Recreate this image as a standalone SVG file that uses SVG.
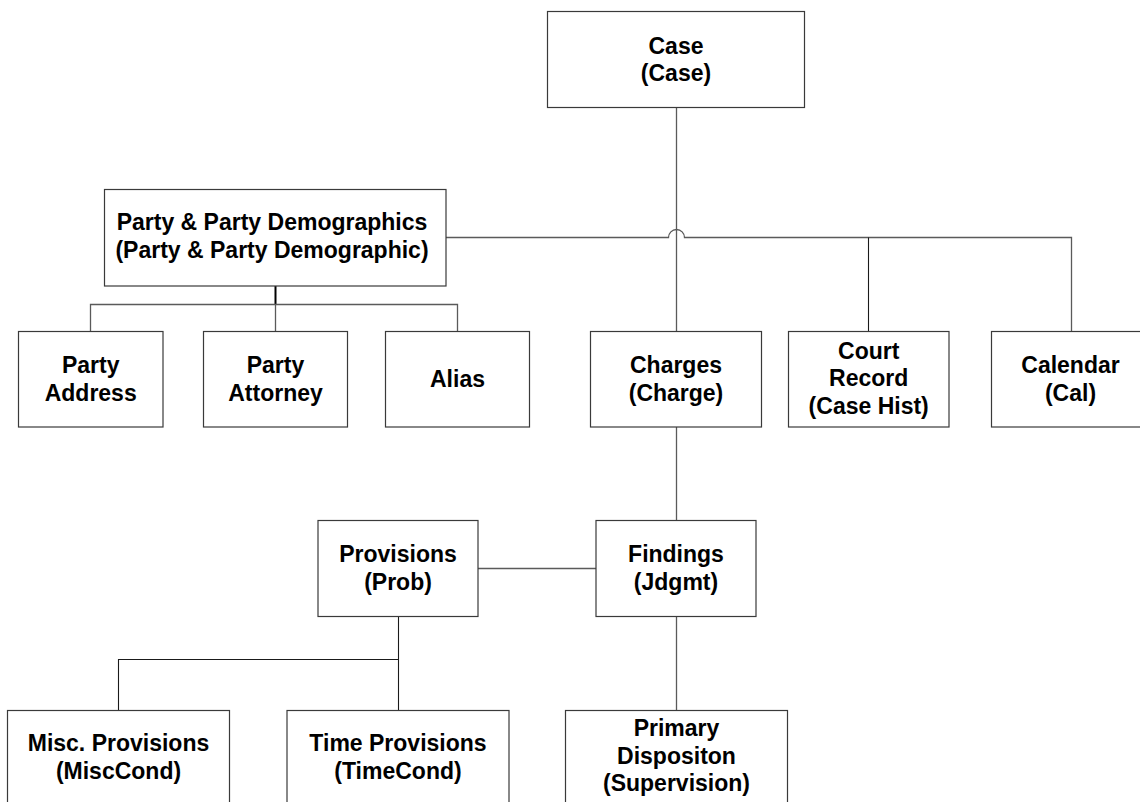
<svg xmlns="http://www.w3.org/2000/svg" width="1140" height="802" viewBox="0 0 1140 802">
<style>
  .box { fill: #ffffff; stroke: #3a3a3a; stroke-width: 1.2; }
  .lbl { font-family: "Liberation Sans", Arial, sans-serif; font-weight: bold; font-size: 23px; fill: #000000; text-anchor: middle; }
  .c1 { fill: none; stroke: #5a5a5a; stroke-width: 1.3; }
  .c2 { fill: none; stroke: #1a1a1a; stroke-width: 1.1; }
</style>
<rect x="0" y="0" width="1140" height="802" fill="#ffffff"/>
<g id="connectors">
  <path class="c1" d="M676.5 107.5 V331.5"/>
  <path class="c1" d="M446 237.5 H668.5 A8 8 0 0 1 684.5 237.5 H1071.5 V331.5"/>
  <path class="c2" d="M868.5 237.5 V331.5"/>
  <path class="c2" d="M275.5 286 V304.5" style="stroke:#000;stroke-width:2"/>
  <path class="c1" d="M90.5 331.5 V304.5 H457.5 V331.5"/>
  <path class="c1" d="M275.5 304.5 V331.5"/>
  <path class="c1" d="M676.5 427 V520.5"/>
  <path class="c1" d="M478 568.5 H596"/>
  <path class="c1" d="M676.5 616.5 V710.5"/>
  <path class="c2" d="M398.5 616.5 V710.5"/>
  <path class="c2" d="M118.5 710.5 V659.5 H398.5"/>
</g>
<g id="case">
  <rect class="box" x="547.5" y="11.5" width="257" height="96"/>
  <text class="lbl" x="676" y="53.5">Case</text>
  <text class="lbl" x="676" y="81">(Case)</text>
</g>
<g id="party">
  <rect class="box" x="104.5" y="189.5" width="341.5" height="96.5"/>
  <text class="lbl" x="272" y="230">Party &amp; Party Demographics</text>
  <text class="lbl" x="272" y="257.5">(Party &amp; Party Demographic)</text>
</g>
<g id="party-address">
  <rect class="box" x="18.5" y="331.5" width="144.5" height="95.5"/>
  <text class="lbl" x="90.7" y="373">Party</text>
  <text class="lbl" x="90.7" y="400.5">Address</text>
</g>
<g id="party-attorney">
  <rect class="box" x="203.5" y="331.5" width="144" height="95.5"/>
  <text class="lbl" x="275.5" y="373">Party</text>
  <text class="lbl" x="275.5" y="400.5">Attorney</text>
</g>
<g id="alias">
  <rect class="box" x="385.5" y="331.5" width="144" height="95.5"/>
  <text class="lbl" x="457.5" y="386.5">Alias</text>
</g>
<g id="charges">
  <rect class="box" x="590.5" y="331.5" width="171" height="95.5"/>
  <text class="lbl" x="676" y="373">Charges</text>
  <text class="lbl" x="676" y="400.5">(Charge)</text>
</g>
<g id="court-record">
  <rect class="box" x="788.5" y="331.5" width="160.5" height="95.5"/>
  <text class="lbl" x="868.7" y="358.5">Court</text>
  <text class="lbl" x="868.7" y="386">Record</text>
  <text class="lbl" x="868.7" y="413.5">(Case Hist)</text>
</g>
<g id="calendar">
  <rect class="box" x="991.5" y="331.5" width="160" height="95.5"/>
  <text class="lbl" x="1070.5" y="373">Calendar</text>
  <text class="lbl" x="1070.5" y="400.5">(Cal)</text>
</g>
<g id="provisions">
  <rect class="box" x="318" y="520.5" width="160" height="96"/>
  <text class="lbl" x="398" y="562">Provisions</text>
  <text class="lbl" x="398" y="589.5">(Prob)</text>
</g>
<g id="findings">
  <rect class="box" x="596" y="520.5" width="160" height="96"/>
  <text class="lbl" x="676" y="562">Findings</text>
  <text class="lbl" x="676" y="589.5">(Jdgmt)</text>
</g>
<g id="misc-provisions">
  <rect class="box" x="7.5" y="710.5" width="222" height="96"/>
  <text class="lbl" x="118.5" y="751">Misc. Provisions</text>
  <text class="lbl" x="118.5" y="778.5">(MiscCond)</text>
</g>
<g id="time-provisions">
  <rect class="box" x="287" y="710.5" width="222" height="96"/>
  <text class="lbl" x="398" y="751">Time Provisions</text>
  <text class="lbl" x="398" y="778.5">(TimeCond)</text>
</g>
<g id="primary-disposition">
  <rect class="box" x="565.5" y="710.5" width="222" height="96"/>
  <text class="lbl" x="676.5" y="736">Primary</text>
  <text class="lbl" x="676.5" y="763.5">Dispositon</text>
  <text class="lbl" x="676.5" y="791">(Supervision)</text>
</g>
</svg>
